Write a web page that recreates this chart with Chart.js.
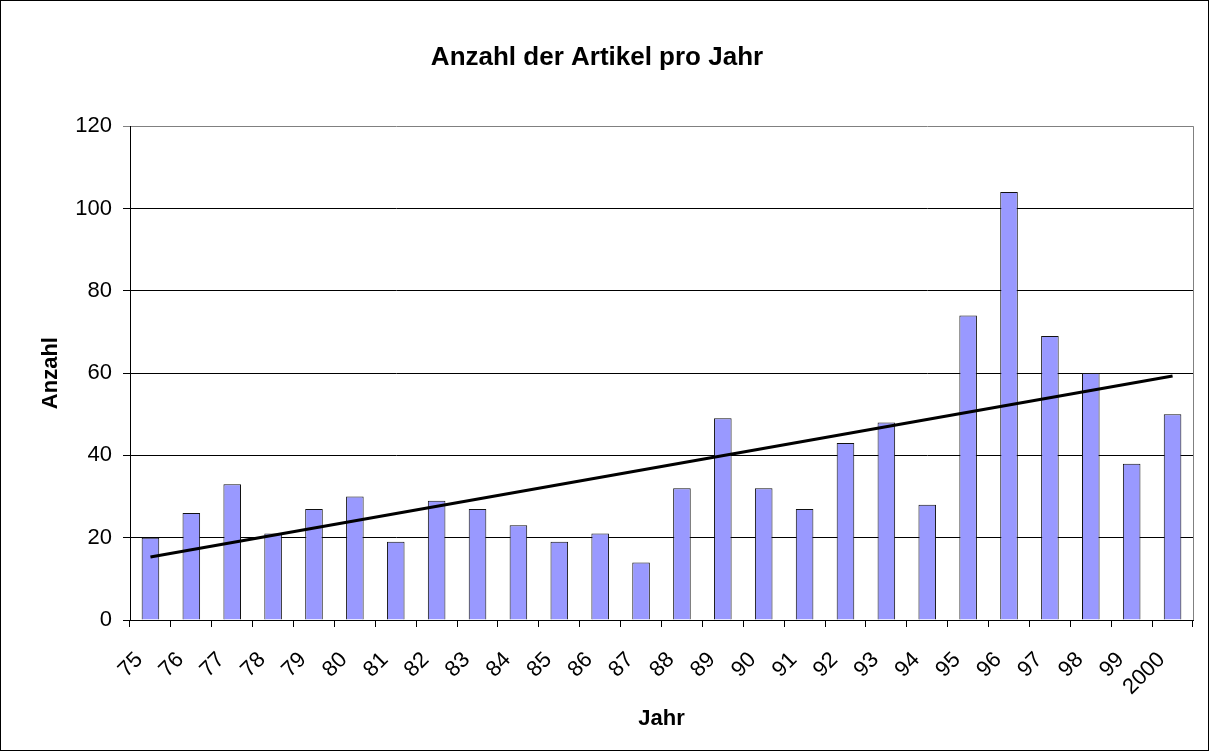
<!DOCTYPE html>
<html>
<head>
<meta charset="utf-8">
<script src="https://cdn.jsdelivr.net/npm/chart.js@4.4.1/dist/chart.umd.min.js"></script>
<style>
  html, body { margin: 0; padding: 0; background: #fff; }
  #box { width: 1207px; height: 749px; border: 1px solid #000; position: relative; }
</style>
</head>
<body>
<div id="box"><canvas id="chart"></canvas></div>
<script>
const years = ["75", "76", "77", "78", "79", "80", "81", "82", "83", "84", "85", "86", "87",
               "88", "89", "90", "91", "92", "93", "94", "95", "96", "97", "98", "99", "2000"];
const articles = [20, 26, 33, 21, 27, 30, 19, 29, 27, 23, 19, 21, 14,
                  32, 49, 32, 27, 43, 48, 28, 74, 104, 69, 60, 38, 50];
// linear trend at its two ends
const trendStart = 15.3;
const trendEnd = 59.3;
const yTicks = [0, 20, 40, 60, 80, 100, 120];

const FONT = "'Liberation Sans', Arial, sans-serif";

const plotBorder = {
    id: "plotBorder",
    afterDraw(chart) {
        const { ctx, chartArea: a } = chart;
        ctx.save();
        ctx.strokeStyle = "#808080";
        ctx.lineWidth = 1;
        ctx.beginPath();
        ctx.moveTo(Math.round(a.right) + 0.5, a.top);
        ctx.lineTo(Math.round(a.right) + 0.5, a.bottom);
        ctx.stroke();
        ctx.restore();
    }
};

new Chart(document.getElementById("chart"), {
    data: {
        labels: years,
        datasets: [
            {
                type: "line",
                order: 0,
                data: [{ x: years[0], y: trendStart }, { x: years[years.length - 1], y: trendEnd }],
                borderColor: "#000",
                borderWidth: 3,
                pointRadius: 0,
                fill: false
            },
            {
                type: "bar",
                order: 1,
                data: articles,
                backgroundColor: "#9999FF",
                borderColor: "#111",
                borderWidth: 1,
                barPercentage: 0.43,
                categoryPercentage: 1
            }
        ]
    },
    options: {
        responsive: true,
        maintainAspectRatio: false,
        animation: false,
        layout: { padding: { left: 0, right: 15, top: 0, bottom: 0 } },
        plugins: {
            legend: { display: false },
            tooltip: { enabled: false },
            title: {
                display: true,
                text: "Anzahl der Artikel pro Jahr",
                color: "#000",
                font: { family: FONT, size: 26, weight: "bold" },
                padding: { top: 41, bottom: 53 }
            }
        },
        scales: {
            x: {
                offset: true,
                afterFit: (s) => {
                    s.height = 130;
                    s.paddingLeft = 0;
                    s.paddingRight = 0;
                },
                grid: {
                    display: true,
                    offset: true,
                    drawOnChartArea: false,
                    drawTicks: true,
                    tickLength: 7,
                    color: "#000"
                },
                border: { display: true, color: "#000", width: 1 },
                ticks: {
                    color: "#000",
                    font: { family: FONT, size: 22 },
                    minRotation: 45,
                    maxRotation: 45,
                    autoSkip: false,
                    labelOffset: -11,
                    padding: 20
                },
                title: {
                    display: true,
                    text: "Jahr",
                    color: "#000",
                    font: { family: FONT, size: 22, weight: "bold" },
                    padding: { top: 0, bottom: 18 }
                }
            },
            y: {
                min: 0,
                max: 120,
                afterFit: (s) => { s.width = 129; },
                afterBuildTicks: (s) => { s.ticks = yTicks.map((v) => ({ value: v })); },
                grid: {
                    color: (c) => (c.tick && c.tick.value === 120 ? "#808080" : "#000"),
                    drawTicks: true,
                    tickLength: 7
                },
                border: { display: true, color: "#000", width: 1 },
                ticks: {
                    color: "#000",
                    font: { family: FONT, size: 22 },
                    padding: 11
                },
                title: {
                    display: true,
                    text: "Anzahl",
                    color: "#000",
                    font: { family: FONT, size: 22, weight: "bold" },
                    padding: { top: 37, bottom: 0 }
                }
            }
        }
    },
    plugins: [plotBorder]
});
</script>
</body>
</html>
